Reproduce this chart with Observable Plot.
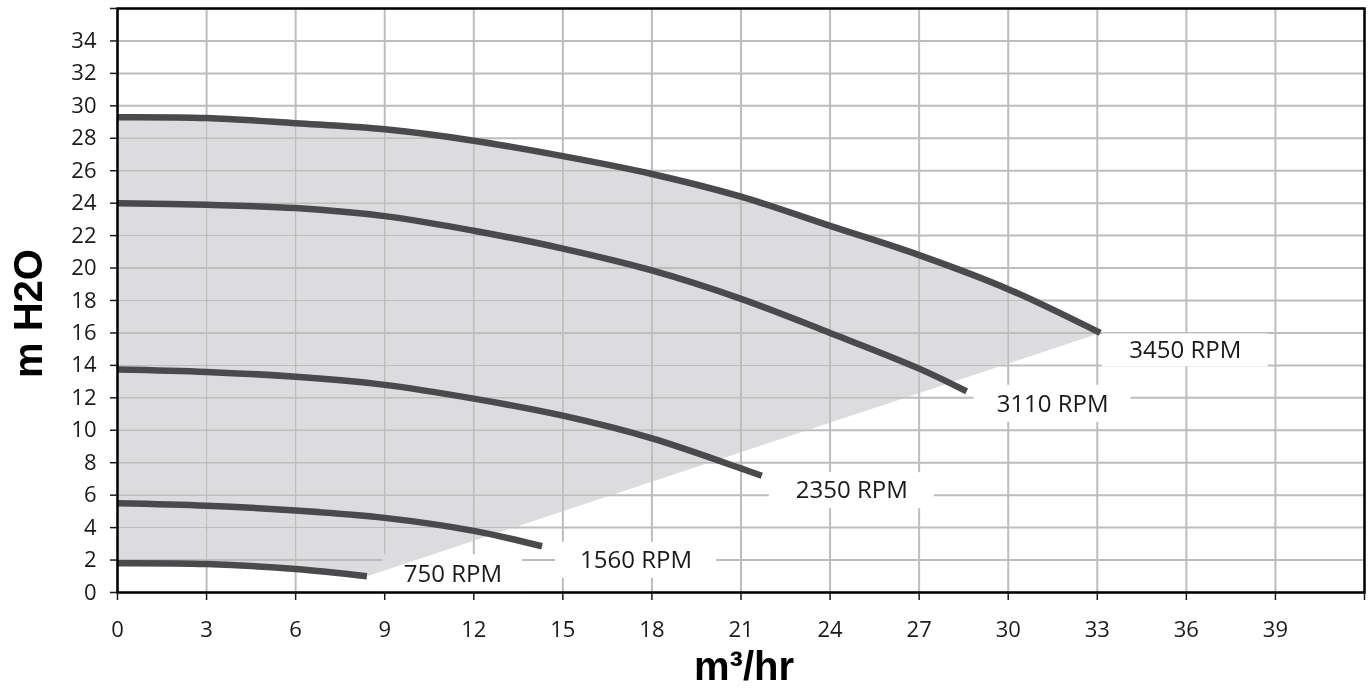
<!DOCTYPE html>
<html>
<head>
<meta charset="utf-8">
<script src="https://cdn.jsdelivr.net/npm/d3@7"></script>
<script src="https://cdn.jsdelivr.net/npm/@observablehq/plot@0.6"></script>
<style>
  html, body { margin: 0; padding: 0; background: #fff; }
  #chart svg { display: block; }
</style>
</head>
<body>
<div id="chart"></div>
<script>
// ---- Data ----
const rpmLabels = ["3450 RPM", "3110 RPM", "2350 RPM", "1560 RPM", "750 RPM"];

const flow3450 = [0, 3, 6, 9, 12, 15, 18, 21, 24, 27, 30, 33.1];
const head3450 = [29.3, 29.25, 28.93, 28.55, 27.85, 26.9, 25.8, 24.4, 22.6, 20.8, 18.7, 16.0];

const flow3110 = [0, 3, 6, 9, 12, 15, 18, 21, 24, 27, 28.6];
const head3110 = [24.0, 23.9, 23.7, 23.2, 22.3, 21.2, 19.85, 18.1, 16.0, 13.8, 12.4];

const flow2350 = [0, 3, 6, 9, 12, 15, 18, 21, 21.7];
const head2350 = [13.75, 13.6, 13.3, 12.8, 11.95, 10.9, 9.5, 7.65, 7.2];

const flow1560 = [0, 3, 6, 9, 12, 14.3];
const head1560 = [5.5, 5.35, 5.05, 4.6, 3.8, 2.85];

const flow750 = [0, 3, 6, 8.4];
const head750 = [1.8, 1.75, 1.45, 1.0];

const xTicks = d3.range(0, 43, 3);   // 0..42
const yTicks = d3.range(0, 37, 2);   // 0..36

// ---- Build tables ----
const flows = [flow3450, flow3110, flow2350, flow1560, flow750];
const heads = [head3450, head3110, head2350, head1560, head750];
const curves = rpmLabels.map((name, k) =>
  flows[k].map((q, i) => ({ name, q, h: heads[k][i] })));
const allPoints = curves.flat();
const ends = curves.map(c => c[c.length - 1]);

// shaded operating region: under top curve, above bottom curve, left of line joining ends
const region = [
  ...curves[0],
  ...curves[4].slice().reverse()
];

// label placement (pixel offsets from curve ends, box size)
const labelStyle = [
  { dx: 85, dy: 17.5, w: 166, h: 33 },
  { dx: 86, dy: 12.5, w: 157, h: 37 },
  { dx: 90, dy: 15,   w: 165, h: 36 },
  { dx: 94, dy: 14,   w: 161, h: 36 },
  { dx: 86, dy: -2,   w: 139, h: 39 }
];

const gridColor = "#bdbdbd";
const curveColor = "#4a4a4d";

const labelMarks = ends.map((e, k) => {
  const s = labelStyle[k];
  return Plot.rect([e], {
    x1: "q", x2: "q", y1: "h", y2: "h",
    dx: s.dx, dy: s.dy,
    insetLeft: -s.w / 2, insetRight: -s.w / 2,
    insetTop: -s.h / 2, insetBottom: -s.h / 2,
    fill: "white"
  });
});
const textMarks = ends.map((e, k) => {
  const s = labelStyle[k];
  return Plot.text([e], {
    x: "q", y: "h", text: "name",
    dx: s.dx, dy: s.dy,
    textAnchor: "middle", lineAnchor: "middle",
    fontSize: 24, fill: "#1a1a1a",
    fontFamily: "Open Sans"
  });
});

const chart = Plot.plot({
  width: 1372,
  height: 695,
  marginLeft: 117,
  marginRight: 8,
  marginTop: 8,
  marginBottom: 103,
  style: { fontFamily: "Open Sans", fontSize: "22px", background: "white", color: "#1a1a1a" },
  x: { domain: [0, 42], label: null },
  y: { domain: [0, 36], label: null },
  marks: [
    Plot.gridX(xTicks, { stroke: gridColor, strokeOpacity: 1, strokeWidth: 2 }),
    Plot.gridY(yTicks, { stroke: gridColor, strokeOpacity: 1, strokeWidth: 2 }),
    ...labelMarks,
    Plot.line(region, {
      x: "q", y: "h", fill: "#dcdcdf", stroke: "none",
      curve: "linear", mixBlendMode: "darken"
    }),
    Plot.line(allPoints, {
      x: "q", y: "h", z: "name",
      stroke: curveColor, strokeWidth: 6.5,
      strokeLinecap: "butt", strokeLinejoin: "round",
      curve: "catmull-rom"
    }),
    ...textMarks,
    Plot.frame({ stroke: "black", strokeWidth: 2.5 }),
    Plot.axisX(xTicks, {
      tickSize: 8, tickPadding: 21, strokeWidth: 1.5,
      tickFormat: d => (d === 42 ? "" : String(d)),
      fontSize: 22, label: null
    }),
    Plot.axisY(yTicks, {
      tickSize: 7, tickPadding: 14, strokeWidth: 1.5,
      tickFormat: d => (d === 36 ? "" : String(d)),
      fontSize: 22, label: null
    }),
    Plot.text(["m H2O"], {
      text: d => d, frameAnchor: "left", rotate: -90,
      dx: -88, dy: 13,
      textAnchor: "middle", lineAnchor: "middle",
      fontSize: 40, fontWeight: "bold",
      fontFamily: "Liberation Sans, Arial, sans-serif", fill: "black"
    }),
    Plot.text(["m³/hr"], {
      text: d => d, frameAnchor: "bottom",
      dx: 3, dy: 75,
      textAnchor: "middle", lineAnchor: "middle",
      fontSize: 40, fontWeight: "bold",
      fontFamily: "Liberation Sans, Arial, sans-serif", fill: "black"
    })
  ]
});

document.getElementById("chart").appendChild(chart);
</script>
</body>
</html>
